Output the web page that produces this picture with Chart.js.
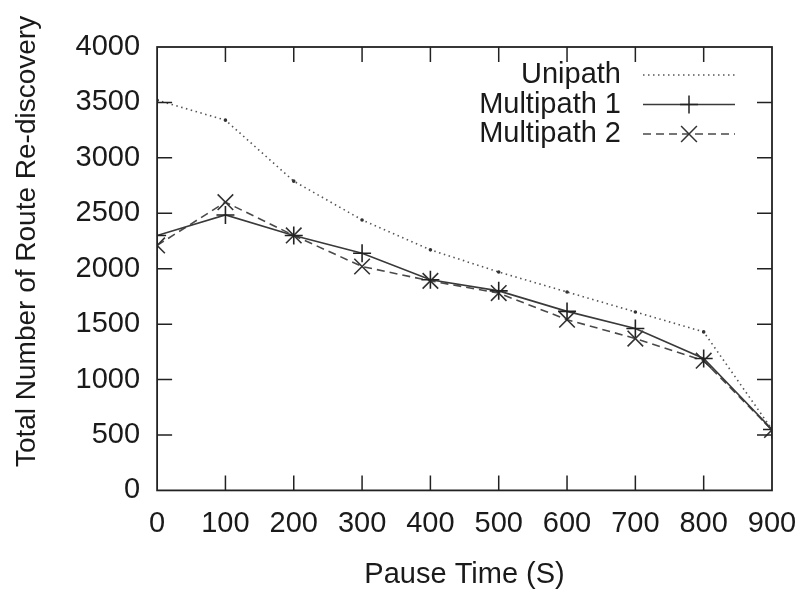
<!DOCTYPE html>
<html>
<head>
<meta charset="utf-8">
<script src="https://cdn.jsdelivr.net/npm/chart.js@4.4.1/dist/chart.umd.min.js"></script>
<style>
  html, body { margin: 0; padding: 0; background: #fff; }
  #wrap { width: 802px; height: 594px; }
</style>
</head>
<body>
<div id="wrap"><canvas id="chart" width="802" height="594"></canvas></div>
<script>
// data
const pauseTimes = [0, 100, 200, 300, 400, 500, 600, 700, 800, 900];
const unipath = [3520, 3340, 2790, 2440, 2170, 1970, 1790, 1610, 1430, 550];
const multipath1 = [2300, 2485, 2300, 2140, 1900, 1800, 1615, 1460, 1190, 550];
const multipath2 = [2210, 2600, 2300, 2020, 1890, 1780, 1540, 1370, 1170, 545];
const yTicks = [0, 500, 1000, 1500, 2000, 2500, 3000, 3500, 4000];

const FONT = 'Liberation Sans, Arial, sans-serif';

function toPoints(vals) {
  return pauseTimes.map((x, i) => ({ x: x, y: vals[i] }));
}

// gnuplot style frame with inward ticks on all four sides
const framePlugin = {
  id: 'frame',
  afterDatasetsDraw(chart) {
    const { ctx, chartArea: a, scales } = chart;
    ctx.save();
    ctx.strokeStyle = '#222';
    ctx.lineWidth = 1.8;
    ctx.setLineDash([]);
    ctx.strokeRect(a.left, a.top, a.right - a.left, a.bottom - a.top);
    const len = 15;
    ctx.lineWidth = 1.5;
    ctx.beginPath();
    scales.x.ticks.forEach(t => {
      const px = scales.x.getPixelForValue(t.value);
      if (px <= a.left + 1 || px >= a.right - 1) return;
      ctx.moveTo(px, a.bottom); ctx.lineTo(px, a.bottom - len);
      ctx.moveTo(px, a.top); ctx.lineTo(px, a.top + len);
    });
    scales.y.ticks.forEach(t => {
      const py = scales.y.getPixelForValue(t.value);
      if (py <= a.top + 1 || py >= a.bottom - 1) return;
      ctx.moveTo(a.left, py); ctx.lineTo(a.left + len, py);
      ctx.moveTo(a.right, py); ctx.lineTo(a.right - len, py);
    });
    ctx.stroke();
    ctx.restore();
  }
};

// legend inside the plot, top right, text right-aligned left of the sample
const insideLegend = {
  id: 'insideLegend',
  afterDraw(chart) {
    const { ctx } = chart;
    ctx.save();
    ctx.font = '29px ' + FONT;
    ctx.textAlign = 'right';
    ctx.textBaseline = 'middle';
    const sampleLeft = 643;
    const sampleRight = 735;
    const textRight = 621;
    chart.data.datasets.forEach((ds, i) => {
      const y = 75 + i * 29.5;
      ctx.fillStyle = '#1a1a1a';
      ctx.fillText(ds.label, textRight, y);
      ctx.strokeStyle = ds.borderColor;
      ctx.lineWidth = ds.borderWidth;
      ctx.setLineDash(ds.borderDash || []);
      ctx.beginPath();
      ctx.moveTo(sampleLeft, y);
      ctx.lineTo(sampleRight, y);
      ctx.stroke();
      ctx.setLineDash([]);
      const cx = (sampleLeft + sampleRight) / 2;
      const r = ds.pointRadius;
      ctx.strokeStyle = ds.pointBorderColor;
      ctx.lineWidth = 1.5;
      ctx.beginPath();
      if (ds.pointStyle === 'cross') {
        ctx.moveTo(cx - r, y); ctx.lineTo(cx + r, y);
        ctx.moveTo(cx, y - r); ctx.lineTo(cx, y + r);
      } else if (ds.pointStyle === 'crossRot') {
        const d = r * 0.72;
        ctx.moveTo(cx - d, y - d); ctx.lineTo(cx + d, y + d);
        ctx.moveTo(cx - d, y + d); ctx.lineTo(cx + d, y - d);
      }
      ctx.stroke();
    });
    ctx.restore();
  }
};

new Chart(document.getElementById('chart'), {
  type: 'line',
  data: {
    datasets: [
      {
        label: 'Unipath',
        data: toPoints(unipath),
        borderColor: '#555',
        borderWidth: 1.6,
        borderDash: [1.5, 3.5],
        pointStyle: 'circle',
        pointRadius: 1,
        pointBorderColor: '#333',
        pointBackgroundColor: '#333',
        tension: 0
      },
      {
        label: 'Multipath 1',
        data: toPoints(multipath1),
        borderColor: '#3a3a3a',
        borderWidth: 1.6,
        pointStyle: 'cross',
        pointRadius: 9,
        pointBorderColor: '#222',
        pointBorderWidth: 1.6,
        tension: 0
      },
      {
        label: 'Multipath 2',
        data: toPoints(multipath2),
        borderColor: '#4a4a4a',
        borderWidth: 1.6,
        borderDash: [8, 5],
        pointStyle: 'crossRot',
        pointRadius: 11,
        pointBorderColor: '#333',
        pointBorderWidth: 1.6,
        tension: 0
      }
    ]
  },
  options: {
    responsive: false,
    animation: false,
    layout: { autoPadding: false, padding: { left: 10, right: 30, top: 47, bottom: 2 } },
    plugins: {
      legend: { display: false },
      tooltip: { enabled: false }
    },
    scales: {
      x: {
        type: 'linear',
        min: 0,
        max: 900,
        grid: { display: false, drawTicks: false },
        border: { display: false },
        afterFit(scale) {
          scale.paddingLeft = 0;
          scale.paddingRight = 0;
        },
        ticks: {
          stepSize: 100,
          color: '#1a1a1a',
          padding: 16,
          callback: v => String(v),
          font: { family: FONT, size: 29 }
        },
        title: {
          display: true,
          text: 'Pause Time (S)',
          color: '#1a1a1a',
          padding: { top: 0, bottom: 0 },
          font: { family: FONT, size: 29 }
        }
      },
      y: {
        type: 'linear',
        min: 0,
        max: 4000,
        grid: { display: false, drawTicks: false },
        border: { display: false },
        afterBuildTicks(scale) {
          scale.ticks = yTicks.map(v => ({ value: v }));
        },
        ticks: {
          color: '#1a1a1a',
          padding: 17,
          callback: v => String(v),
          font: { family: FONT, size: 29 }
        },
        title: {
          display: true,
          text: '\u00a0\u00a0\u00a0\u00a0\u00a0\u00a0\u00a0Total Number of Route Re-discovery',
          color: '#1a1a1a',
          padding: { top: 0, bottom: 15 },
          font: { family: FONT, size: 28 }
        }
      }
    }
  },
  plugins: [framePlugin, insideLegend]
});
</script>
</body>
</html>
